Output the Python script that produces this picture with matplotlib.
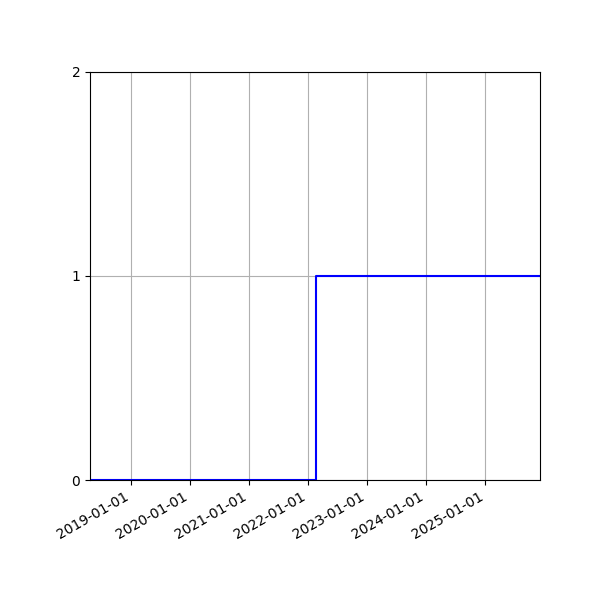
import matplotlib
matplotlib.use("Agg")
import matplotlib.pyplot as plt
import matplotlib.dates as mdates
import numpy as np

dates = np.array(["2018-04-23", "2022-02-17", "2025-12-05"], dtype="datetime64[D]")
values = [0, 1, 1]
y_ticks = [0, 1, 2]

fig = plt.figure(figsize=(6, 6), dpi=100)
ax = fig.add_axes([0.15, 0.2, 0.75, 0.68])
ax.plot(dates, values, drawstyle="steps-post", color="blue", linewidth=1.5)
ax.set_xlim(dates[0], dates[-1])
ax.set_ylim(0, 2)
ax.set_yticks(y_ticks)
ax.xaxis.set_major_locator(mdates.YearLocator())
ax.xaxis.set_major_formatter(mdates.DateFormatter("%Y-%m-%d"))
ax.grid(True)
for lbl in ax.get_xticklabels():
    lbl.set_rotation(30)
    lbl.set_ha("right")
fig.savefig("out.png", dpi=100)
